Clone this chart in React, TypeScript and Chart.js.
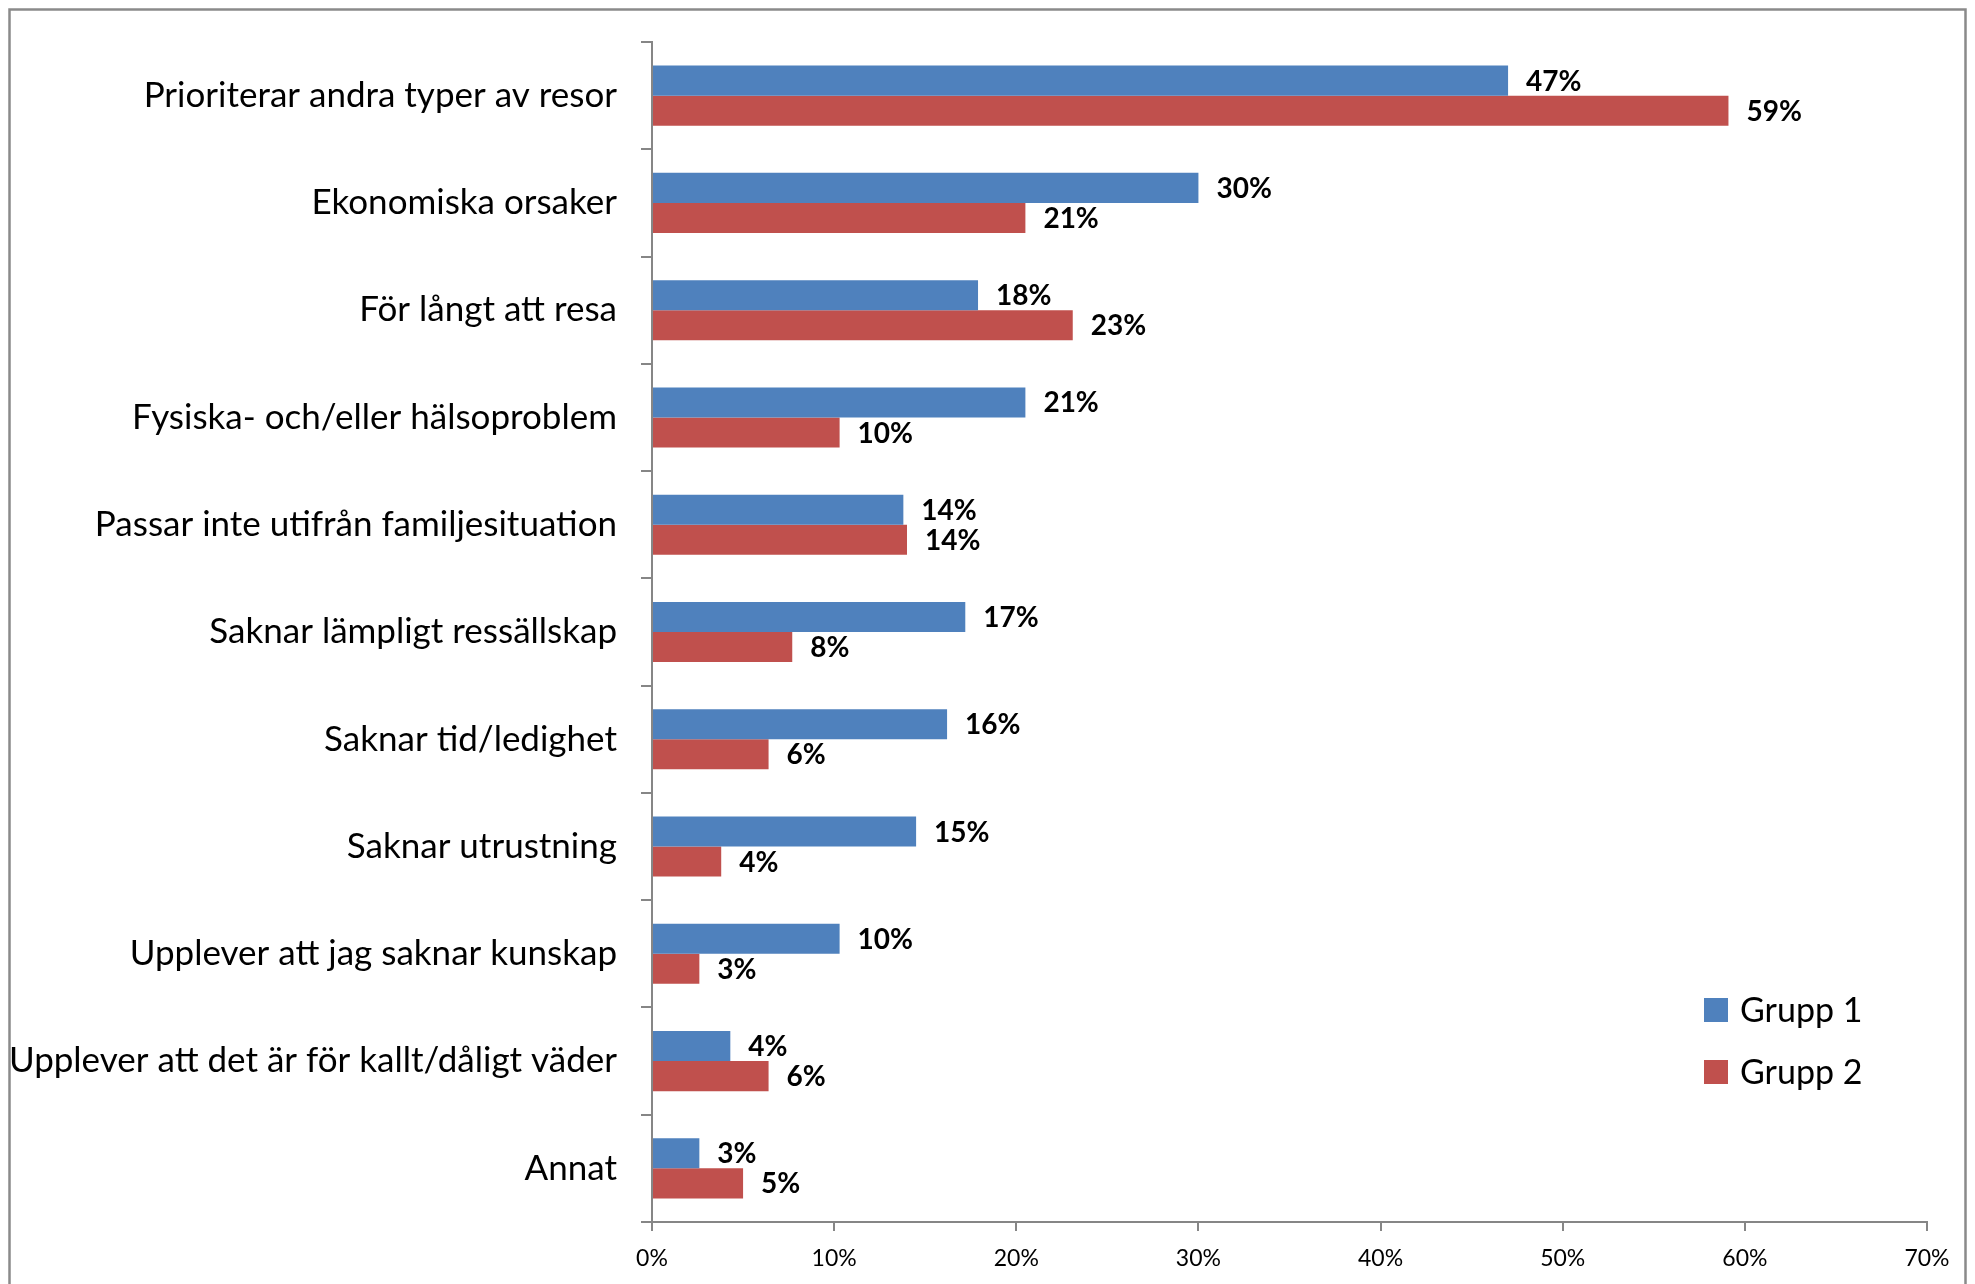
import React, { useEffect, useRef } from "react";
import { Chart, registerables } from "chart.js";

Chart.register(...registerables);

const categories = [
  "Prioriterar andra typer av resor",
  "Ekonomiska orsaker",
  "För långt att resa",
  "Fysiska- och/eller hälsoproblem",
  "Passar inte utifrån familjesituation",
  "Saknar lämpligt ressällskap",
  "Saknar tid/ledighet",
  "Saknar utrustning",
  "Upplever att jag saknar kunskap",
  "Upplever att det är för kallt/dåligt väder",
  "Annat",
];
const grupp1 = [47.0, 30.0, 17.9, 20.5, 13.8, 17.2, 16.2, 14.5, 10.3, 4.3, 2.6];
const grupp2 = [59.1, 20.5, 23.1, 10.3, 14.0, 7.7, 6.4, 3.8, 2.6, 6.4, 5.0];
const seriesNames = ["Grupp 1", "Grupp 2"];
const seriesColors = ["#4F81BD", "#C0504D"];
const xMin = 0;
const xMax = 70;
const xStep = 10;

const FONT = "Lato, 'Open Sans', sans-serif";
const AXIS_COLOR = "#868686";

const decorPlugin = {
  id: "decor",
  beforeDraw(chart: any) {
    const ctx = chart.ctx;
    ctx.save();
    ctx.fillStyle = "#ffffff";
    ctx.fillRect(0, 0, chart.width, chart.height);
    ctx.strokeStyle = "#8a8a8a";
    ctx.lineWidth = 2.5;
    ctx.strokeRect(9.5, 9.5, 1956, 1400);
    ctx.restore();
  },
  afterDatasetsDraw(chart: any) {
    const ctx = chart.ctx;
    ctx.save();
    ctx.font = `bold 28px ${FONT}`;
    ctx.fillStyle = "#000";
    ctx.textAlign = "left";
    ctx.textBaseline = "middle";
    chart.data.datasets.forEach((ds: any, di: number) => {
      const meta = chart.getDatasetMeta(di);
      meta.data.forEach((el: any, i: number) => {
        const v = ds.data[i];
        ctx.fillText(`${Math.round(v)}%`, el.x + 18, el.y + 1);
      });
    });
    ctx.restore();
  },
  afterDraw(chart: any) {
    const ctx = chart.ctx;
    ctx.save();
    const ys = [1010, 1072];
    chart.data.datasets.forEach((ds: any, di: number) => {
      const y = ys[di];
      ctx.fillStyle = ds.backgroundColor;
      ctx.fillRect(1704, y - 12, 24, 24);
      ctx.fillStyle = "#000";
      ctx.font = `34px ${FONT}`;
      ctx.textAlign = "left";
      ctx.textBaseline = "middle";
      ctx.fillText(ds.label, 1740, y + 1);
    });
    ctx.restore();
  },
};

export default function App() {
  const ref = useRef<HTMLCanvasElement>(null);
  useEffect(() => {
    if (!ref.current) return;
    const chart = new Chart(ref.current, {
      type: "bar",
      data: {
        labels: categories,
        datasets: [
          { label: seriesNames[0], data: grupp1, backgroundColor: seriesColors[0], borderWidth: 0 },
          { label: seriesNames[1], data: grupp2, backgroundColor: seriesColors[1], borderWidth: 0 },
        ],
      },
      options: {
        indexAxis: "y",
        responsive: false,
        animation: false,
        layout: { padding: { top: 42, right: 48, left: 0, bottom: 0 } },
        datasets: { bar: { categoryPercentage: 0.56, barPercentage: 1.0 } },
        plugins: { legend: { display: false }, tooltip: { enabled: false } },
        scales: {
          x: {
            min: xMin,
            max: xMax,
            ticks: {
              stepSize: xStep,
              callback: (v: any) => `${v}%`,
              font: { family: FONT, size: 23 },
              color: "#000",
              padding: 14,
              maxRotation: 0,
            },
            grid: {
              drawOnChartArea: false,
              drawTicks: true,
              tickLength: 9,
              color: AXIS_COLOR,
              lineWidth: 2,
            },
            border: { color: AXIS_COLOR, width: 2 },
            afterFit: (s: any) => {
              s.height = 62;
              s.paddingLeft = 0;
              s.paddingRight = 0;
            },
          },
          y: {
            ticks: {
              font: { family: FONT, size: 35 },
              color: "#000",
              padding: 24,
            },
            grid: {
              drawOnChartArea: false,
              drawTicks: true,
              tickLength: 11,
              color: AXIS_COLOR,
              lineWidth: 2,
            },
            border: { color: AXIS_COLOR, width: 2 },
            afterFit: (s: any) => {
              s.width = 652;
              s.paddingTop = 0;
              s.paddingBottom = 0;
            },
          },
        },
      },
      plugins: [decorPlugin],
    } as any);
    return () => chart.destroy();
  }, []);
  return (
    <div style={{ position: "absolute", left: 0, top: 0, width: 1975, height: 1284, overflow: "hidden", background: "#fff" }}>
      <canvas ref={ref} width={1975} height={1284} style={{ display: "block" }} />
    </div>
  );
}
